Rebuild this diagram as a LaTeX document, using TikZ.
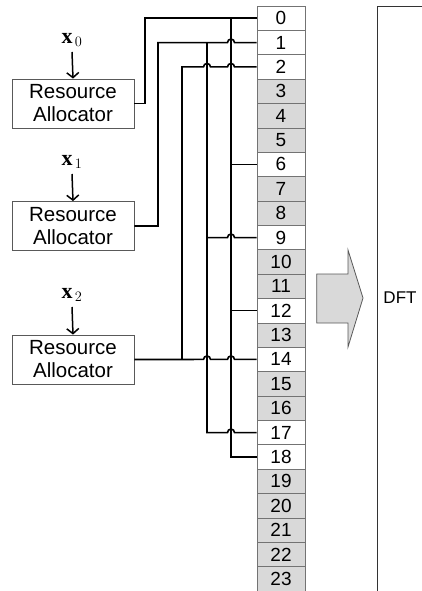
\documentclass[tikz,border=0pt]{standalone}
\usepackage{fontspec}
\setmainfont{Liberation Sans}
\newfontfamily\serifx{Liberation Serif}
\usepackage{amsmath}
\usetikzlibrary{arrows.meta, positioning}

\begin{document}
\begin{tikzpicture}[x=1pt, y=-1pt,
        alloc/.style={draw=black!65, line width=0.8pt, minimum width=122pt, minimum height=49pt,
        inner sep=0pt, align=center, font=\fontsize{20.5}{23}\selectfont},
        slot/.style={draw=black!55, line width=0.7pt, minimum width=48pt, minimum height=24.375pt,
        inner sep=0pt, font=\fontsize{19}{19}\selectfont},
        busy/.style={fill=white},
        idle/.style={fill=black!15},
        sym/.style={inner sep=0pt, font=\fontsize{22}{24}\selectfont},
        feed/.style={-{Straight Barb[length=5pt, width=12pt]}, line width=1.5pt},
        bus/.style={line width=1.6pt}
      ]
      \useasboundingbox (0,0) rectangle (421,591);

      % subcarrier column
      \foreach \i/\s in {0/busy,1/busy,2/busy,3/idle,4/idle,5/idle,6/busy,7/idle,8/idle,
                         9/busy,10/idle,11/idle,12/busy,13/idle,14/busy,15/idle,16/idle,
                         17/busy,18/busy,19/idle,20/idle,21/idle,22/idle,23/idle}
        \node[slot, \s] (c\i) at (281, 18.1875+24.375*\i) {\i};

      \node[alloc] (alloc0) at (73, 103.5) {Resource\\Allocator};
      \node[alloc] (alloc1) at (73, 226)   {Resource\\Allocator};
      \node[alloc] (alloc2) at (73, 359.5) {Resource\\Allocator};

      \node[sym] (in0) at (72, 40)  {$\text{\serifx\bfseries x}_{\,0}$};
      \node[sym] (in1) at (72, 162) {$\text{\serifx\bfseries x}_{\,1}$};
      \node[sym] (in2) at (72, 295) {$\text{\serifx\bfseries x}_{\,2}$};

      \draw[feed] (72,52)  -- (alloc0.north);
      \draw[feed] (72,174) -- (alloc1.north);
      \draw[feed] (72,307) -- (alloc2.north);

      % x0 -> 0, 6, 12, 18
      \draw[bus] (alloc0.east) -| (145,0 |- c0) -- (c0.west);
      \draw[bus] (231,0 |- c0) -- (231,0 |- c18) -- (c18.west);
      \draw[bus] (231,0 |- c6) -- (c6.west);
      \draw[bus] (231,0 |- c12) -- (c12.west);

      % x1 -> 1, 9, 17
      \draw[bus] (alloc1.east) -| (158,0 |- c1) -- (227.5,0 |- c1)
        arc[start angle=180, end angle=0, radius=3.5pt] -- (c1.west);
      \draw[bus] (207,0 |- c1) -- (207,0 |- c17) -- (227.5,0 |- c17)
        arc[start angle=180, end angle=0, radius=3.5pt] -- (c17.west);
      \draw[bus] (207,0 |- c9) -- (227.5,0 |- c9)
        arc[start angle=180, end angle=0, radius=3.5pt] -- (c9.west);

      % x2 -> 2, 14
      \draw[bus] (alloc2.east) -- (203.5,0 |- c14)
        arc[start angle=180, end angle=0, radius=3.5pt] -- (227.5,0 |- c14)
        arc[start angle=180, end angle=0, radius=3.5pt] -- (c14.west);
      \draw[bus] (182,0 |- c14) -- (182,0 |- c2) -- (203.5,0 |- c2)
        arc[start angle=180, end angle=0, radius=3.5pt] -- (227.5,0 |- c2)
        arc[start angle=180, end angle=0, radius=3.5pt] -- (c2.west);

      % block arrow and DFT
      \draw[draw=black!65, line width=0.8pt, fill=black!15]
        (316.7,274) -- (348,274) -- (348,250) -- (363,298) -- (348,347) -- (348,323) -- (316.7,323) -- cycle;
      \draw[black!80, line width=0.8pt] (377.7,6) rectangle (450,620);
      \node[font=\fontsize{17}{17}\selectfont] (dft) at (400, 298) {DFT};
    \end{tikzpicture}
\end{document}
